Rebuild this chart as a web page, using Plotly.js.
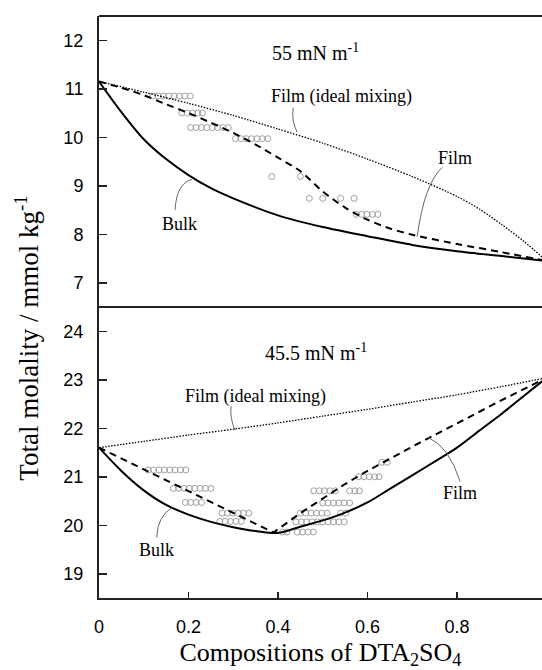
<!DOCTYPE html>
<html>
<head>
<meta charset="utf-8">
<script src="https://cdn.plot.ly/plotly-3.0.1.min.js"></script>
<style>
html,body{margin:0;padding:0;background:#fff;overflow:hidden;}
#chart{width:542px;height:670px;}
</style>
</head>
<body>
<div id="chart"></div>
<script>
// ---------- data: top panel (55 mN m-1) ----------
const topIdealX = [0,0.1,0.2,0.3,0.4,0.5,0.6,0.7,0.8,0.85,0.9,0.95,1.0];
const topIdealY = [11.15,10.93,10.7,10.45,10.17,9.88,9.55,9.19,8.78,8.52,8.2,7.85,7.45];
const topFilmX  = [0,0.05,0.1,0.15,0.2,0.25,0.3,0.35,0.4,0.45,0.5,0.55,0.6,0.65,0.7,0.8,0.9,1.0];
const topFilmY  = [11.15,11.02,10.87,10.68,10.5,10.3,10.09,9.85,9.58,9.3,8.88,8.55,8.3,8.12,7.99,7.8,7.63,7.45];
const topBulkX  = [0,0.05,0.1,0.15,0.2,0.25,0.3,0.4,0.5,0.6,0.7,0.8,0.9,1.0];
const topBulkY  = [11.15,10.52,9.96,9.55,9.22,8.95,8.74,8.39,8.15,7.96,7.78,7.65,7.55,7.45];
const topMarkX = [0.12,0.132,0.144,0.156,0.168,0.18,0.192,0.204,
                  0.185,0.197,0.209,0.221,0.231,
                  0.205,0.217,0.229,0.241,0.253,0.265,0.277,0.289,
                  0.305,0.317,0.329,0.341,0.353,0.365,0.377,
                  0.386,0.45,
                  0.47,0.5,0.54,0.57,
                  0.575,0.587,0.599,0.611,0.623];
const topMarkY = [10.85,10.85,10.85,10.85,10.85,10.85,10.85,10.85,
                  10.5,10.5,10.5,10.5,10.5,
                  10.2,10.2,10.2,10.2,10.2,10.2,10.2,10.2,
                  9.97,9.97,9.97,9.97,9.97,9.97,9.97,
                  9.19,9.19,
                  8.74,8.74,8.74,8.74,
                  8.41,8.41,8.41,8.41,8.41];

// ---------- data: bottom panel (45.5 mN m-1) ----------
const botIdealX = [0,0.1,0.2,0.3,0.4,0.5,0.6,0.7,0.8,0.9,1.0];
const botIdealY = [21.6,21.73,21.86,21.98,22.11,22.25,22.39,22.54,22.69,22.86,23.04];
const botFilmX  = [0,0.1,0.2,0.3,0.39,0.45,0.5,0.55,0.6,0.7,0.8,0.9,1.0];
const botFilmY  = [21.6,21.15,20.7,20.26,19.85,20.25,20.55,20.85,21.12,21.62,22.1,22.58,23.04];
const botBulkX  = [0,0.05,0.1,0.15,0.2,0.25,0.3,0.35,0.4,0.45,0.5,0.55,0.6,0.65,0.7,0.75,0.8,0.85,0.9,0.95,1.0];
const botBulkY  = [21.6,21.12,20.72,20.42,20.22,20.07,19.96,19.88,19.84,19.97,20.1,20.26,20.47,20.75,21.03,21.31,21.6,21.95,22.3,22.67,23.04];
const botMarkX = [0.11,0.122,0.134,0.146,0.158,0.17,0.182,0.194,
                  0.166,0.178,0.19,0.202,0.214,0.226,0.238,0.25,
                  0.193,0.205,0.217,0.229,
                  0.275,0.287,0.299,0.311,0.323,0.335,
                  0.27,0.282,0.294,0.306,0.318,
                  0.632,0.644,
                  0.58,0.592,0.604,0.616,0.626,
                  0.48,0.492,0.504,0.516,0.528,0.56,0.572,0.582,
                  0.5,0.512,0.524,0.536,0.548,0.56,
                  0.45,0.462,0.474,0.486,0.498,0.51,0.54,0.552,
                  0.44,0.452,0.464,0.476,0.488,0.5,0.512,0.524,0.536,0.548,
                  0.41,0.42,0.443,0.455,0.467,0.479];
const botMarkY = [21.14,21.14,21.14,21.14,21.14,21.14,21.14,21.14,
                  20.76,20.76,20.76,20.76,20.76,20.76,20.76,20.76,
                  20.47,20.47,20.47,20.47,
                  20.25,20.25,20.25,20.25,20.25,20.25,
                  20.08,20.08,20.08,20.08,20.08,
                  21.3,21.3,
                  21.0,21.0,21.0,21.0,21.0,
                  20.71,20.71,20.71,20.71,20.71,20.71,20.71,20.71,
                  20.46,20.46,20.46,20.46,20.46,20.46,
                  20.25,20.25,20.25,20.25,20.25,20.25,20.25,20.25,
                  20.07,20.07,20.07,20.07,20.07,20.07,20.07,20.07,20.07,20.07,
                  19.86,19.86,19.86,19.86,19.86,19.86];

// ---------- ticks / labels ----------
const xTickVals = [0,0.2,0.4,0.6,0.8];
const xTickText = ['0','0.2','0.4','0.6','0.8'];
const topTickVals = [7,8,9,10,11,12];
const botTickVals = [19,20,21,22,23,24];
const xTitle = 'Compositions of DTA<sub>2</sub>SO<sub>4</sub>';
const yTitle = 'Total molality / mmol kg<sup>-1</sup>';

const serif = 'Liberation Serif, Times New Roman, serif';
const sans = 'Liberation Sans, Arial, sans-serif';

function lineTrace(x, y, ya, dash, width, shape) {
  return {x:x, y:y, xaxis:'x', yaxis:ya, mode:'lines', hoverinfo:'skip',
          line:{color:'#000', width:width, dash:dash, shape:shape||'spline', smoothing:0.8}};
}
function markTrace(x, y, ya) {
  return {x:x, y:y, xaxis:'x', yaxis:ya, mode:'markers', hoverinfo:'skip',
          marker:{symbol:'circle-open', size:6, color:'#a0a0a0', line:{width:1}}};
}

const traces = [
  markTrace(topMarkX, topMarkY, 'y2'),
  lineTrace(topIdealX, topIdealY, 'y2', '1.5px,1.5px', 1.3),
  lineTrace(topFilmX, topFilmY, 'y2', '7px,5px', 2),
  lineTrace(topBulkX, topBulkY, 'y2', 'solid', 2),
  markTrace(botMarkX, botMarkY, 'y'),
  lineTrace(botIdealX, botIdealY, 'y', '1.5px,1.5px', 1.3),
  lineTrace(botFilmX, botFilmY, 'y', '7px,5px', 2, 'linear'),
  lineTrace(botBulkX, botBulkY, 'y', 'solid', 2)
];

function pointer(ya, s, c, e) {
  return {type:'path', xref:'x', yref:ya,
          path:'M '+s[0]+','+s[1]+' Q '+c[0]+','+c[1]+' '+e[0]+','+e[1],
          line:{color:'#666', width:1}};
}

const layout = {
  width:542, height:670,
  margin:{l:99, r:0, t:16, b:72},
  showlegend:false,
  paper_bgcolor:'#fff', plot_bgcolor:'#fff',
  xaxis:{range:[0,0.99], anchor:'y', tickvals:xTickVals, ticktext:xTickText,
         ticks:'inside', ticklen:6, tickwidth:1.5, tickcolor:'#222',
         showline:true, linecolor:'#222', linewidth:2, showgrid:false, zeroline:false,
         ticklabelstandoff:11,
         tickfont:{family:sans, size:18, color:'#000'},
         title:{text:xTitle, font:{family:serif, size:26, color:'#000'}, standoff:12}},
  yaxis:{domain:[0,0.5], range:[18.5,24.5], tickvals:botTickVals,
         ticks:'inside', ticklen:8, tickwidth:1.5, tickcolor:'#222',
         showline:true, linecolor:'#222', linewidth:2, showgrid:false, zeroline:false,
         ticklabelstandoff:10,
         tickfont:{family:sans, size:18, color:'#000'}},
  yaxis2:{domain:[0.5,1], range:[6.5,12.5], tickvals:topTickVals, anchor:'x',
         ticks:'inside', ticklen:8, tickwidth:1.5, tickcolor:'#222',
         showline:true, linecolor:'#222', linewidth:2, showgrid:false, zeroline:false,
         ticklabelstandoff:10,
         tickfont:{family:sans, size:18, color:'#000'}},
  shapes:[
    {type:'line', xref:'paper', yref:'paper', x0:0, x1:1, y0:1, y1:1, line:{color:'#222', width:2}},
    {type:'line', xref:'paper', yref:'paper', x0:0, x1:1, y0:0.5, y1:0.5, line:{color:'#222', width:2}},
    pointer('y2', [0.434,10.61], [0.4295,10.345], [0.443,10.1]),
    pointer('y2', [0.767,9.38], [0.727,9.035], [0.711,7.95]),
    pointer('y2', [0.17,8.5], [0.173,9.05], [0.208,9.13]),
    pointer('y', [0.295,22.45], [0.2925,22.195], [0.304,21.96]),
    pointer('y', [0.129,19.75], [0.13,20.165], [0.163,20.37]),
    pointer('y', [0.807,20.9], [0.7825,21.62], [0.736,21.81])
  ],
  annotations:[
    {xref:'paper', yref:'paper', x:-0.163, y:0.447, xanchor:'center', yanchor:'middle', textangle:-90, showarrow:false,
     text:yTitle, font:{family:serif, size:27, color:'#000'}},
    {xref:'x', yref:'y2', x:0.483, y:11.75, showarrow:false, text:'55 mN m<sup>-1</sup>',
     font:{family:serif, size:20, color:'#000'}},
    {xref:'x', yref:'y2', x:0.541, y:10.84, showarrow:false, text:'Film (ideal mixing)',
     font:{family:serif, size:18, color:'#000'}},
    {xref:'x', yref:'y2', x:0.796, y:9.58, showarrow:false, text:'Film',
     font:{family:serif, size:18, color:'#000'}},
    {xref:'x', yref:'y2', x:0.181, y:8.22, showarrow:false, text:'Bulk',
     font:{family:serif, size:18, color:'#000'}},
    {xref:'x', yref:'y', x:0.485, y:23.58, showarrow:false, text:'45.5 mN m<sup>-1</sup>',
     font:{family:serif, size:20, color:'#000'}},
    {xref:'x', yref:'y', x:0.349, y:22.66, showarrow:false, text:'Film (ideal mixing)',
     font:{family:serif, size:18, color:'#000'}},
    {xref:'x', yref:'y', x:0.807, y:20.66, showarrow:false, text:'Film',
     font:{family:serif, size:18, color:'#000'}},
    {xref:'x', yref:'y', x:0.128, y:19.5, showarrow:false, text:'Bulk',
     font:{family:serif, size:18, color:'#000'}},
    {xref:'paper', yref:'paper', x:1.009, y:-0.049, xanchor:'center', yanchor:'middle', showarrow:false,
     text:'1', font:{family:sans, size:18, color:'#000'}}
  ]
};

Plotly.newPlot('chart', traces, layout, {displayModeBar:false, staticPlot:true});
</script>
</body>
</html>
